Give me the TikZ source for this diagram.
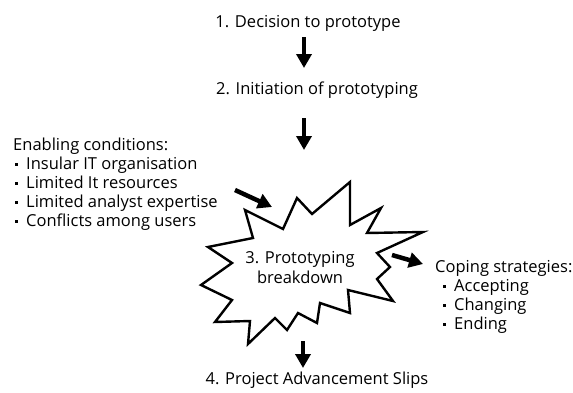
\documentclass[tikz,border=0pt]{standalone}
\usepackage{fontspec}
\setmainfont{Open Sans}
\usetikzlibrary{arrows.meta}
\newcommand\sqbul{\rule[3.5pt]{3pt}{3pt}\hspace{8pt}}
\begin{document}
\begin{tikzpicture}[x=1pt,y=-1pt,
  txt/.style={inner sep=0pt, font=\fontsize{16.5}{19}\selectfont, anchor=base west},
  ctxt/.style={inner sep=0pt, font=\fontsize{16.5}{19}\selectfont, anchor=base},
  fat/.style={line width=4.5pt, -{Triangle[length=14pt,width=15pt]}},
  burst/.style={draw, line width=2.4pt, line join=miter, miter limit=20, fill=white}]
\useasboundingbox[fill=white] (0,0) rectangle (573,392);

% central chain
\node[ctxt] (t1) at (308,27) {1. Decision to prototype};
\node[ctxt] (t2) at (317,94) {2. Initiation of prototyping};
\node[ctxt] (t4) at (317,384) {4. Project Advancement Slips};

% starburst
\draw[burst] (245,210) -- (283,229) -- (297,198) -- (312,214) -- (350,182)
  -- (350,225) -- (381,208) -- (367,233) -- (423,232) -- (377,253)
  -- (390,267) -- (377,279) -- (393,301) -- (348,290) -- (350,313)
  -- (320,303) -- (317,323) -- (298,313) -- (287,330) -- (275,318)
  -- (248,344) -- (250,321) -- (215,322) -- (232,300) -- (201,285)
  -- (232,263) -- (208,247) -- (253,238) -- cycle;
\node[ctxt] (t3a) at (300,263) {3. Prototyping};
\node[ctxt] (t3b) at (300,283) {breakdown};

% enabling conditions
\node[txt] (e0) at (13,150) {Enabling conditions:};
\node[txt] (e1) at (15,169) {\sqbul Insular IT organisation};
\node[txt] (e2) at (15,188) {\sqbul Limited It resources};
\node[txt] (e3) at (15,207) {\sqbul Limited analyst expertise};
\node[txt] (e4) at (15,226) {\sqbul Conflicts among users};

% coping strategies
\node[txt] (c0) at (435,272) {Coping strategies:};
\node[txt] (c1) at (443,291) {\sqbul Accepting};
\node[txt] (c2) at (443,310) {\sqbul Changing};
\node[txt] (c3) at (443,329) {\sqbul Ending};

% arrow end points
\coordinate (a1s) at (304,37);  \coordinate (a1e) at (304,68);
\coordinate (a2s) at (304,118); \coordinate (a2e) at (304,150);
\coordinate (a3s) at (303,341); \coordinate (a3e) at (303,368);
\coordinate (aes) at (235,190); \coordinate (aee) at (272,207);
\coordinate (acs) at (392,255); \coordinate (ace) at (423,264);

\draw[fat] (a1s) -- (a1e);
\draw[fat] (a2s) -- (a2e);
\draw[fat] (a3s) -- (a3e);
\draw[fat] (aes) -- (aee);
\draw[fat] (acs) -- (ace);
\end{tikzpicture}
\end{document}
